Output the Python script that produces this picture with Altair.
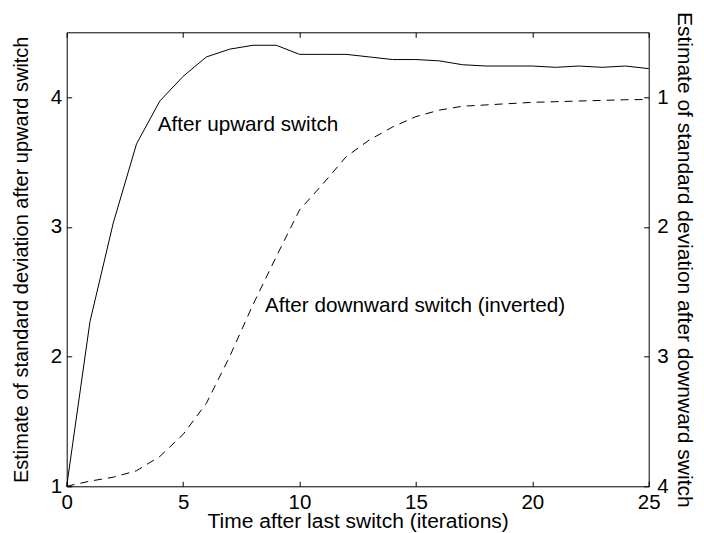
import altair as alt
import pandas as pd

# ---- data ----
t = list(range(26))
up = [1.0, 2.27, 3.03, 3.64, 3.97, 4.16, 4.31, 4.37, 4.40, 4.40, 4.33, 4.33, 4.33,
      4.31, 4.29, 4.29, 4.28, 4.25, 4.24, 4.24, 4.24, 4.23, 4.24, 4.23, 4.24, 4.22]
down = [4.0, 3.96, 3.93, 3.88, 3.77, 3.60, 3.36, 3.00, 2.60, 2.23, 1.87, 1.67, 1.46,
        1.33, 1.23, 1.15, 1.10, 1.07, 1.06, 1.05, 1.04, 1.035, 1.03, 1.025, 1.02, 1.018]

x_ticks = [0, 5, 10, 15, 20, 25]
y_ticks = [1, 2, 3, 4]

up_label = ["After upward switch"]
up_label_x = [3.91]
up_label_y = [3.736]
down_label = ["After downward switch (inverted)"]
down_label_x = [8.52]
down_label_y = [2.658]

x_title = "Time after last switch (iterations)"
left_title = "Estimate of standard deviation after upward switch"
right_title = "Estimate of standard deviation after downward switch"

df = pd.DataFrame({"t": t, "up": up, "down": down})
df_up_lab = pd.DataFrame({"x": up_label_x, "y": up_label_y, "label": up_label})
df_down_lab = pd.DataFrame({"x": down_label_x, "y": down_label_y, "label": down_label})

FONT = "Liberation Sans"
W, H = 582, 454

xscale = alt.Scale(domain=[0, 25], nice=False, zero=False)
left_scale = alt.Scale(domain=[1, 4.5], nice=False, zero=False)
right_scale = alt.Scale(domain=[0.5, 4], nice=False, zero=False, reverse=True)

common = dict(domain=False, ticks=True, tickSize=5, offset=-5, grid=False,
              tickColor="black", tickWidth=1, labelColor="black", labelFont=FONT,
              labelFontSize=20.5, titleFont=FONT, titleFontSize=20,
              titleFontWeight="normal", titleColor="black", labelOverlap=False)

bottom_common = dict(common)
bottom_common["titleFontSize"] = 21

solid = alt.Chart(df).mark_line(color="black", strokeWidth=1).encode(
    x=alt.X("t:Q", scale=xscale,
            axis=alt.Axis(values=x_ticks, orient="bottom", title=x_title,
                          labelPadding=6, labelFlush=False,
                          titleX=W / 2, titleY=46.3, titleBaseline="alphabetic",
                          titleAlign="center", **bottom_common)),
    y=alt.Y("up:Q", scale=left_scale,
            axis=alt.Axis(values=y_ticks, orient="left", title=left_title,
                          labelPadding=5, titleAngle=270, titleX=-44.7,
                          titleY=H / 2, titleBaseline="alphabetic",
                          titleAlign="center", **common)),
)
up_text = alt.Chart(df_up_lab).mark_text(
    align="left", baseline="alphabetic", font=FONT, fontSize=20.7, color="black"
).encode(
    x=alt.X("x:Q", scale=xscale, axis=None),
    y=alt.Y("y:Q", scale=left_scale, axis=None),
    text="label:N",
)

right_common = dict(common)
right_common["titleFontSize"] = 21

dashed = alt.Chart(df).mark_line(color="black", strokeWidth=1, strokeDash=[8, 6]).encode(
    x=alt.X("t:Q", scale=xscale,
            axis=alt.Axis(values=x_ticks, orient="top", title=None, labels=False,
                          **common)),
    y=alt.Y("down:Q", scale=right_scale,
            axis=alt.Axis(values=y_ticks, orient="right", title=right_title,
                          labelPadding=8, titleAngle=90, titleX=34,
                          titleY=H / 2, titleBaseline="alphabetic",
                          titleAlign="center", **right_common)),
)
down_text = alt.Chart(df_down_lab).mark_text(
    align="left", baseline="alphabetic", font=FONT, fontSize=20.7, color="black"
).encode(
    x=alt.X("x:Q", scale=xscale, axis=None),
    y=alt.Y("y:Q", scale=right_scale, axis=None),
    text="label:N",
)

chart = alt.layer(solid, dashed, up_text, down_text).resolve_scale(
    y="independent"
).resolve_axis(
    x="independent", y="independent"
).properties(
    width=W, height=H, autosize="none",
    padding={"left": 58.7, "top": 24.3, "right": 47.3, "bottom": 46},
    background="white",
).configure_view(stroke="black", strokeWidth=1)

chart.save("out.html", embed_options={"renderer": "svg", "actions": False})
